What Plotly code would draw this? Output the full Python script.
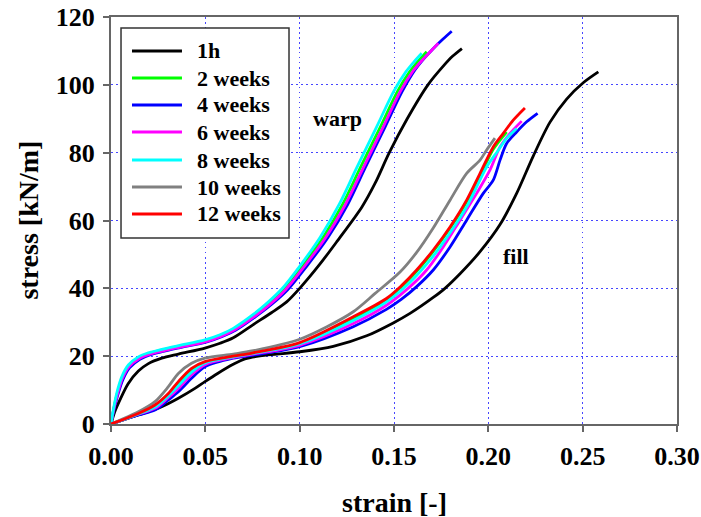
import plotly.graph_objects as go

# ---- warp direction: strain [-] / stress [kN/m] ----
warp_1h_strain = [0, 0.002, 0.005, 0.009, 0.0145, 0.0198, 0.0269, 0.0357, 0.0498, 0.0578, 0.0648, 0.0754, 0.0850, 0.0931, 0.100, 0.1108, 0.1200, 0.1330, 0.1400, 0.1475, 0.1570, 0.1680, 0.1761, 0.1810, 0.1860]
warp_1h_stress = [0, 3.6, 7.4, 11.8, 15.6, 17.8, 19.4, 20.6, 22.4, 23.8, 25.4, 29.3, 32.8, 36.0, 40.0, 47.2, 54.0, 64.0, 71.0, 80.0, 90.0, 100.0, 105.5, 108.4, 110.7]

warp_2w_strain = [0, 0.0013, 0.0032, 0.006, 0.0096, 0.015, 0.0203, 0.0274, 0.0362, 0.0503, 0.0584, 0.0655, 0.0762, 0.0840, 0.0917, 0.1014, 0.1124, 0.1228, 0.1321, 0.1428, 0.1520, 0.1580, 0.1627, 0.1673]
warp_2w_stress = [0, 4.0, 8.8, 13.6, 17.1, 19.6, 20.8, 21.8, 22.9, 24.6, 26.2, 28.1, 32.2, 35.7, 39.8, 46.5, 55.0, 64.8, 75.5, 87.6, 98.2, 103.6, 106.9, 109.8]

warp_4w_strain = [0, 0.0014, 0.0035, 0.0063, 0.0099, 0.0153, 0.0206, 0.0277, 0.0366, 0.0508, 0.0590, 0.0662, 0.0770, 0.0852, 0.0935, 0.1037, 0.1150, 0.1255, 0.1347, 0.1453, 0.1545, 0.1610, 0.1660, 0.1710, 0.1760, 0.1806]
warp_4w_stress = [0, 3.8, 8.4, 13.1, 16.6, 19.1, 20.4, 21.4, 22.5, 24.2, 25.8, 27.7, 31.8, 35.3, 39.5, 46.5, 55.0, 64.8, 75.5, 87.6, 98.2, 104.3, 107.8, 110.8, 113.5, 115.8]

warp_6w_strain = [0, 0.0013, 0.0033, 0.006, 0.0096, 0.015, 0.0203, 0.0274, 0.0362, 0.0503, 0.0585, 0.0656, 0.0765, 0.0845, 0.0925, 0.1025, 0.1138, 0.1243, 0.1337, 0.1443, 0.1535, 0.1600, 0.1650, 0.1700, 0.1735]
warp_6w_stress = [0, 3.9, 8.6, 13.4, 16.9, 19.3, 20.5, 21.5, 22.6, 24.3, 25.9, 27.8, 31.9, 35.4, 39.6, 46.5, 55.0, 64.8, 75.5, 87.6, 98.2, 104.0, 107.3, 110.2, 112.3]

warp_8w_strain = [0, 0.0012, 0.003, 0.0057, 0.0092, 0.0145, 0.0198, 0.0269, 0.0357, 0.0498, 0.0578, 0.0648, 0.0754, 0.0830, 0.0905, 0.100, 0.1108, 0.1210, 0.1302, 0.1408, 0.1500, 0.1560, 0.1605, 0.1647]
warp_8w_stress = [0, 4.1, 9.0, 13.9, 17.4, 19.8, 21.0, 22.0, 23.1, 24.8, 26.3, 28.2, 32.3, 35.8, 39.8, 46.5, 55.0, 64.8, 75.5, 87.6, 98.2, 103.6, 106.7, 109.3]

# ---- fill direction ----
fill_1h_strain = [0, 0.0145, 0.0269, 0.0357, 0.0445, 0.0498, 0.0565, 0.0648, 0.0710, 0.0790, 0.0880, 0.100, 0.1178, 0.1355, 0.1496, 0.1585, 0.1708, 0.177, 0.1850, 0.1956, 0.2062, 0.2150, 0.2238, 0.2327, 0.2415, 0.2503, 0.2583]
fill_1h_stress = [0, 2.65, 5.1, 7.6, 10.5, 12.5, 14.9, 17.6, 19.2, 20.1, 20.6, 21.3, 22.9, 26.0, 29.8, 32.6, 37.3, 40.0, 44.3, 50.8, 58.8, 68.0, 79.0, 89.0, 95.8, 100.6, 103.8]

fill_2w_strain = [0, 0.0145, 0.0233, 0.0304, 0.0357, 0.0427, 0.0498, 0.0648, 0.0754, 0.100, 0.1284, 0.1460, 0.1540, 0.1620, 0.1708, 0.1797, 0.1885, 0.1956, 0.2026, 0.2097]
fill_2w_stress = [0, 3.0, 5.2, 8.4, 11.6, 15.6, 18.0, 19.8, 20.8, 23.7, 31.0, 36.6, 40.5, 45.0, 50.9, 57.7, 65.5, 73.2, 81.0, 86.1]

fill_4w_strain = [0, 0.0145, 0.0233, 0.0304, 0.0357, 0.0427, 0.0498, 0.0648, 0.0754, 0.100, 0.1284, 0.1460, 0.1540, 0.1620, 0.1708, 0.1797, 0.1885, 0.1973, 0.2026, 0.2062, 0.2097, 0.2150, 0.2203, 0.2261]
fill_4w_stress = [0, 2.65, 4.1, 7.1, 9.5, 13.5, 16.9, 19.4, 20.3, 22.8, 28.7, 33.8, 36.8, 40.5, 45.4, 52.2, 60.1, 68.0, 71.9, 77.8, 82.7, 86.1, 89.1, 91.6]

fill_6w_strain = [0, 0.0145, 0.0233, 0.0304, 0.0357, 0.0427, 0.0498, 0.0648, 0.0754, 0.100, 0.1284, 0.1460, 0.1585, 0.1673, 0.1761, 0.1850, 0.1938, 0.2009, 0.2062, 0.2115, 0.2177]
fill_6w_stress = [0, 2.9, 4.6, 7.8, 10.5, 14.5, 17.5, 19.6, 20.6, 23.2, 29.6, 35.0, 40.5, 45.4, 52.2, 60.1, 68.0, 74.9, 81.7, 85.7, 89.3]

fill_8w_strain = [0, 0.0145, 0.0233, 0.0304, 0.0357, 0.0427, 0.0498, 0.0648, 0.0754, 0.100, 0.1284, 0.1460, 0.1585, 0.1708, 0.1800, 0.1885, 0.1991, 0.2050, 0.2097, 0.2150]
fill_8w_stress = [0, 3.0, 5.0, 8.3, 11.3, 15.3, 18.0, 19.8, 20.8, 23.6, 30.5, 36.0, 41.8, 49.5, 56.6, 64.0, 75.8, 80.5, 84.2, 87.1]

fill_10w_strain = [0, 0.0145, 0.0233, 0.0304, 0.0357, 0.0427, 0.0498, 0.0648, 0.0754, 0.100, 0.1142, 0.1284, 0.1400, 0.1532, 0.1620, 0.1708, 0.1797, 0.1885, 0.1956, 0.1991, 0.2035]
fill_10w_stress = [0, 3.6, 6.6, 11.0, 14.9, 17.9, 19.4, 20.6, 21.6, 25.0, 28.6, 33.1, 38.5, 44.8, 50.6, 57.8, 66.0, 73.9, 77.8, 80.8, 84.3]

fill_12w_strain = [0, 0.0145, 0.0233, 0.0304, 0.0357, 0.0427, 0.0498, 0.0648, 0.0754, 0.100, 0.1284, 0.1460, 0.1540, 0.1620, 0.1708, 0.1797, 0.1885, 0.1956, 0.2026, 0.2079, 0.2132, 0.2194]
fill_12w_stress = [0, 3.1, 5.6, 9.0, 12.5, 16.4, 18.4, 20.0, 21.0, 24.0, 31.6, 37.0, 40.8, 45.4, 51.3, 58.1, 66.0, 73.9, 81.7, 85.7, 89.6, 93.2]

series_names = ["1h", "2 weeks", "4 weeks", "6 weeks", "8 weeks", "10 weeks", "12 weeks"]
series_colors = ["#000000", "#00FF00", "#0000FF", "#FF00FF", "#00FFFF", "#808080", "#FF0000"]
# only the first five ages have a warp curve
warp_data = [
    (warp_1h_strain, warp_1h_stress),
    (warp_2w_strain, warp_2w_stress),
    (warp_4w_strain, warp_4w_stress),
    (warp_6w_strain, warp_6w_stress),
    (warp_8w_strain, warp_8w_stress),
    None,
    None,
]
fill_data = [
    (fill_1h_strain, fill_1h_stress),
    (fill_2w_strain, fill_2w_stress),
    (fill_4w_strain, fill_4w_stress),
    (fill_6w_strain, fill_6w_stress),
    (fill_8w_strain, fill_8w_stress),
    (fill_10w_strain, fill_10w_stress),
    (fill_12w_strain, fill_12w_stress),
]

FONT = "Liberation Serif, Times New Roman, serif"
LINE_W = 2.8

fig = go.Figure()
for name, color, warp, fill in zip(series_names, series_colors, warp_data, fill_data):
    xs, ys = [], []
    if warp is not None:
        xs += list(warp[0]) + [None]
        ys += list(warp[1]) + [None]
    xs += list(fill[0])
    ys += list(fill[1])
    fig.add_trace(go.Scatter(
        x=xs, y=ys, mode="lines", name=name, showlegend=False,
        line=dict(color=color, width=LINE_W, shape="spline", smoothing=0.85),
        connectgaps=False,
    ))

axis_common = dict(
    automargin=False,
    showline=True, linecolor="#666666", linewidth=2, mirror=True,
    ticks="outside", ticklen=6, tickwidth=2, tickcolor="#666666",
    showgrid=True, gridcolor="rgb(70,70,255)", gridwidth=1, griddash="1.5px,3.5px",
    zeroline=False,
    tickfont=dict(family=FONT, size=26, color="black", weight="bold"),
)

fig.update_xaxes(range=[0, 0.30], dtick=0.05, tick0=0, tickformat=".2f",
                 ticklabelstandoff=2, **axis_common)
fig.update_yaxes(range=[0, 120], dtick=20, tick0=0,
                 ticklabelstandoff=3, **axis_common)

annotations = [
    dict(x=0.5, y=-0.194, xref="paper", yref="paper", text="<b>strain [-]</b>",
         showarrow=False, xanchor="center", yanchor="middle",
         font=dict(family=FONT, size=28, color="black")),
    dict(x=-0.1466, y=0.5, xref="paper", yref="paper", text="<b>stress [kN/m]</b>",
         textangle=-90, showarrow=False, xanchor="center", yanchor="middle",
         font=dict(family=FONT, size=28, color="black")),
    dict(x=0.12, y=90, xref="x", yref="y", text="<b>warp</b>", showarrow=False,
         xanchor="center", yanchor="middle", font=dict(family=FONT, size=22, color="black")),
    dict(x=0.2146, y=49.3, xref="x", yref="y", text="<b>fill</b>", showarrow=False,
         xanchor="center", yanchor="middle", font=dict(family=FONT, size=22, color="black")),
]

# legend box drawn in paper coordinates
shapes = [dict(type="rect", xref="paper", yref="paper",
               x0=0.0177, x1=0.3145, y0=0.457, y1=0.973,
               line=dict(color="#333333", width=1.5), fillcolor="white", layer="above")]
legend_rows = [0.9165, 0.8501, 0.7838, 0.7174, 0.6486, 0.5823, 0.5160]
for name, color, yrow in zip(series_names, series_colors, legend_rows):
    shapes.append(dict(type="line", xref="paper", yref="paper",
                       x0=0.0371, x1=0.1254, y0=yrow, y1=yrow,
                       line=dict(color=color, width=LINE_W), layer="above"))
    annotations.append(dict(x=0.1484, y=yrow, xref="paper", yref="paper",
                            text="<b>%s</b>" % name, showarrow=False,
                            xanchor="left", yanchor="middle",
                            font=dict(family=FONT, size=22, color="black")))

fig.update_layout(
    width=701, height=517,
    margin=dict(l=111, r=24, t=17, b=93),
    paper_bgcolor="white", plot_bgcolor="white",
    showlegend=False,
    annotations=annotations,
    shapes=shapes,
)

fig.write_html("out.html")
